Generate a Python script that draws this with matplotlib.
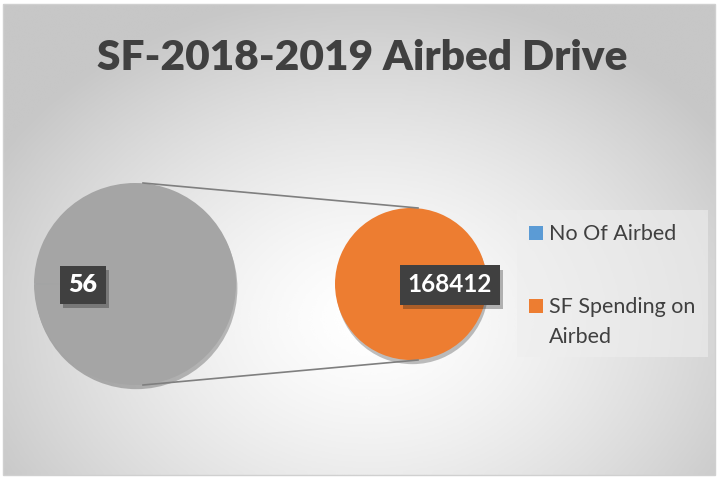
import matplotlib.pyplot as plt
import matplotlib.patheffects as pe
from matplotlib.patches import Rectangle
import numpy as np

title = "SF-2018-2019 Airbed Drive"
labels = ["No Of Airbed", "SF Spending on\nAirbed"]
values = [56, 168412]
colors = ["#5B9BD5", "#ED7D31"]
other_color = "#A5A5A5"

W, H = 718, 478
fig = plt.figure(figsize=(W / 100, H / 100), dpi=100)
ax = fig.add_axes([0, 0, 1, 1])
ax.set_xlim(0, W)
ax.set_ylim(H, 0)
ax.axis("off")

# chart area with a radial grey->white gradient
x0, y0, x1, y1 = 3, 4, 715, 475
xx, yy = np.meshgrid(np.linspace(x0, x1, 300), np.linspace(y0, y1, 200))
d = np.sqrt(((xx - 370) / 430) ** 2 + ((yy - 320) / 330) ** 2)
shade = 1 - 0.22 * np.clip(d, 0, 1) ** 1.4
ax.imshow(shade, cmap="gray", vmin=0, vmax=1, extent=(x0, x1, y1, y0),
          aspect="auto", interpolation="bicubic", zorder=0)
ax.add_patch(Rectangle((x0, y0), x1 - x0, y1 - y0, fill=False,
                       edgecolor="#d0d0d0", lw=1, zorder=1))

shadow = [pe.SimplePatchShadow(offset=(1, -3), shadow_rgbFace="k", alpha=0.25), pe.Normal()]

# first pie: the small point and the "other" wedge that is split out
c1, r1 = (135, 284), 101
w1, _ = ax.pie([values[0], values[1]], colors=[colors[0], other_color],
               center=c1, radius=r1, startangle=180 - values[0] / sum(values) * 180,
               frame=True, wedgeprops=dict(linewidth=0))
for w in w1:
    w.set_path_effects(shadow)

# second pie: the split-out point
c2, r2 = (411, 284), 76
w2, _ = ax.pie([values[1]], colors=[colors[1]], center=c2, radius=r2,
               frame=True, wedgeprops=dict(linewidth=0))
for w in w2:
    w.set_path_effects(shadow)

# connector lines
for s in (-1, 1):
    ax.plot([c1[0] + 8, c2[0] + 7], [c1[1] + s * r1, c2[1] + s * r2],
            color="#7f7f7f", lw=1.2, zorder=3)

ax.set_xlim(0, W)
ax.set_ylim(H, 0)
ax.set_aspect("auto")

# data labels
box = dict(boxstyle="square,pad=0.33", facecolor="#404040", edgecolor="none")
lbl_shadow = [pe.withSimplePatchShadow(offset=(2, -3), alpha=0.3)]
t1 = ax.text(83, 285, str(values[0]), color="white", fontsize=18, fontweight="heavy",
             family="Lato", ha="center", va="center", bbox=box, zorder=5)
t2 = ax.text(450, 285, str(values[1]), color="white", fontsize=17.5, fontweight="bold",
             family="Lato", ha="center", va="center", bbox=box, zorder=5)
for t in (t1, t2):
    t.get_bbox_patch().set_path_effects(lbl_shadow)

ax.text(362, 58, title, fontsize=30.5, fontweight="heavy", color="#404040",
        family="Lato", ha="center", va="center", zorder=5)

# legend
ax.add_patch(Rectangle((517, 210), 191, 147, facecolor="#eeeeee", alpha=0.6,
                       edgecolor="none", zorder=2))
legend_y = [233, 306]
for lab, col, ly in zip(labels, colors, legend_y):
    ax.add_patch(Rectangle((529, ly - 7), 14, 14, facecolor=col, edgecolor="none", zorder=4))
    for i, line in enumerate(lab.split("\n")):
        ax.text(549, ly + 1 + i * 30, line, fontsize=15.5, color="#404040", family="Lato",
                ha="left", va="center", zorder=5)

fig.savefig("out.png", dpi=100)
